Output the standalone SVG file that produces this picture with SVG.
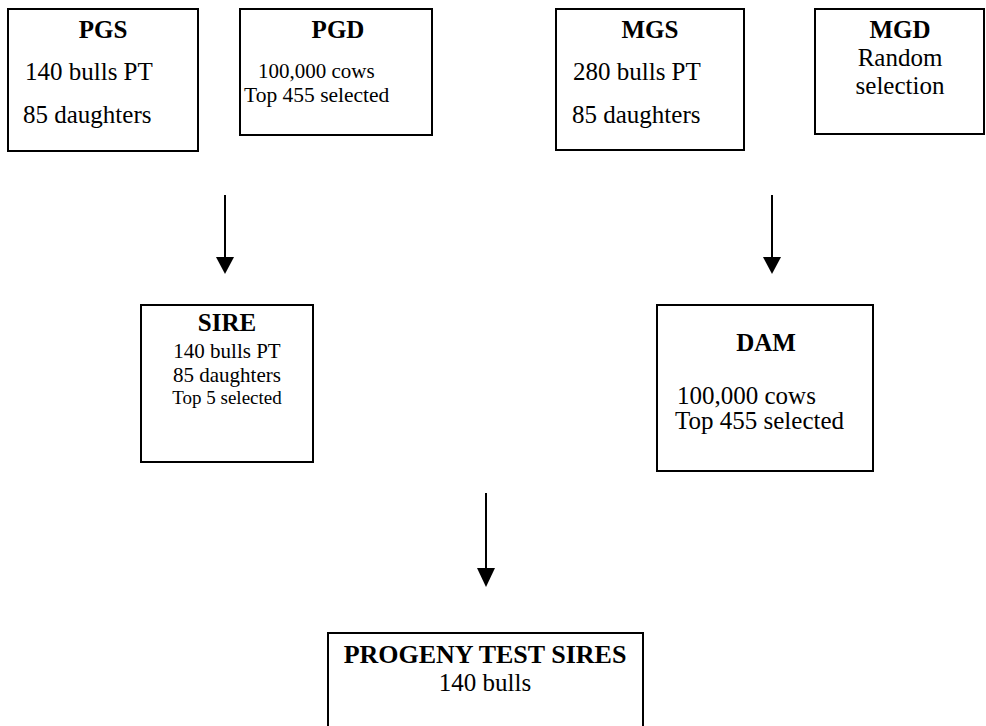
<svg xmlns="http://www.w3.org/2000/svg" width="986" height="726" viewBox="0 0 986 726">
  <style>
    .box { fill: #ffffff; stroke: #000000; stroke-width: 2; }
    .t { font-family: "Liberation Serif", "Times New Roman", serif; fill: #000000; }
    .h { font-weight: bold; text-anchor: middle; }
    .c { text-anchor: middle; }
    .link { stroke: #000000; stroke-width: 2; fill: none; }
    .head { fill: #000000; stroke: none; }
  </style>
  <rect x="0" y="0" width="986" height="726" fill="#ffffff"/>

  <!-- paternal grandsire -->
  <g id="pgs">
    <rect class="box" x="8" y="9" width="190" height="142"/>
    <text class="t h" x="103" y="38" font-size="25">PGS</text>
    <text class="t" x="25" y="80" font-size="25">140 bulls PT</text>
    <text class="t" x="23" y="123" font-size="25">85 daughters</text>
  </g>

  <!-- paternal granddam -->
  <g id="pgd">
    <rect class="box" x="240" y="9" width="192" height="126"/>
    <text class="t h" x="338" y="38" font-size="25">PGD</text>
    <text class="t" x="258" y="78" font-size="21">100,000 cows</text>
    <text class="t" x="244" y="102" font-size="21.5">Top 455 selected</text>
  </g>

  <!-- maternal grandsire -->
  <g id="mgs">
    <rect class="box" x="556" y="9" width="188" height="141"/>
    <text class="t h" x="650" y="38" font-size="25">MGS</text>
    <text class="t" x="573" y="80" font-size="25">280 bulls PT</text>
    <text class="t" x="572" y="123" font-size="25">85 daughters</text>
  </g>

  <!-- maternal granddam -->
  <g id="mgd">
    <rect class="box" x="815" y="9" width="169" height="125"/>
    <text class="t h" x="900" y="38" font-size="25">MGD</text>
    <text class="t c" x="900" y="66" font-size="25">Random</text>
    <text class="t c" x="900" y="94" font-size="25">selection</text>
  </g>

  <!-- sire -->
  <g id="sire">
    <rect class="box" x="141" y="305" width="172" height="157"/>
    <text class="t h" x="227" y="331" font-size="25">SIRE</text>
    <text class="t c" x="227" y="358" font-size="21">140 bulls PT</text>
    <text class="t c" x="227" y="382" font-size="21">85 daughters</text>
    <text class="t c" x="227" y="404" font-size="19">Top 5 selected</text>
  </g>

  <!-- dam -->
  <g id="dam">
    <rect class="box" x="657" y="305" width="216" height="166"/>
    <text class="t h" x="766" y="351" font-size="25">DAM</text>
    <text class="t" x="677" y="404" font-size="25">100,000 cows</text>
    <text class="t" x="675" y="429" font-size="25">Top 455 selected</text>
  </g>

  <!-- progeny test sires -->
  <g id="progeny">
    <rect class="box" x="328" y="633" width="315" height="110"/>
    <text class="t h" x="485" y="663" font-size="26">PROGENY TEST SIRES</text>
    <text class="t c" x="485" y="691" font-size="25">140 bulls</text>
  </g>

  <!-- connectors -->
  <g id="connectors">
    <line class="link" x1="225" y1="195" x2="225" y2="259"/>
    <polygon class="head" points="216,257 234,257 225,274"/>
    <line class="link" x1="772" y1="195" x2="772" y2="259"/>
    <polygon class="head" points="763,257 781,257 772,274"/>
    <line class="link" x1="486" y1="493" x2="486" y2="570"/>
    <polygon class="head" points="477,568 495,568 486,587"/>
  </g>
</svg>
